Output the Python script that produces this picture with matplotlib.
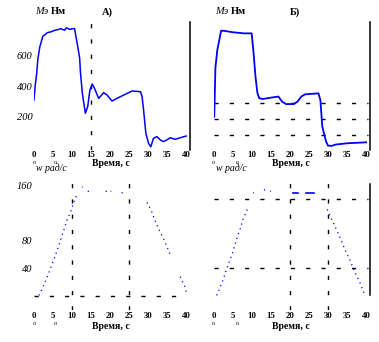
import numpy as np
import matplotlib
matplotlib.use("Agg")
import matplotlib.pyplot as plt

nan = np.nan

# torque, case A
t_m1 = [0, 0.3, 0.7, 1.0, 1.5, 2.3, 3.5, 4.5, 5.5, 6.5, 7.0, 8.0, 8.5, 9.5, 10.0, 10.65,
        11.35, 12.0, 12.2, 12.7, 13.5, 14.1, 14.7, 15.3, 15.9, 17.0, 18.3, 19.2, 20.5,
        21.8, 23.6, 25.8, 28.0, 28.4, 28.8, 29.4, 30.1, 30.7, 31.4, 32.3, 33.2, 34.0,
        34.9, 35.8, 37.1, 38.4, 40.0]
m1 = [310, 400, 480, 570, 650, 720, 744, 750, 760, 765, 770, 760, 775, 765, 770, 770,
      675, 580, 492, 353, 224, 266, 374, 413, 385, 320, 357, 342, 303,
      320, 342, 368, 363, 331, 245, 95, 30, 8, 63, 73, 52, 41,
      52, 66, 56, 66, 77]

# torque, case B
t_m2 = [0.2, 0.5, 1.0, 2.0, 3.0, 5.0, 8.0, 10.0, 10.5, 11.0, 11.5, 12.0, 13.0, 15.0,
        17.0, 18.0, 19.0, 21.0, 22.0, 23.0, 24.0, 27.5, 28.0, 28.5, 29.5, 30.0, 31.0,
        32.0, 35.0, 40.0]
m2 = [214, 520, 631, 752, 750, 742, 735, 735, 612, 464, 362, 329, 325, 333,
      340, 308, 293, 293, 308, 340, 354, 360, 318, 152, 58, 33, 32,
      40, 48, 54]

# speed, case A
t_w1 = [1.3, 2.2, 3.5, 5.2, 7.0, 8.7, 9.6, 10.5, 11.2, nan, 12.6, 12.8, nan, 14.1, 14.8,
        nan, 18.8, 20.3, nan, 23.0, 23.4, nan, 29.7, 31.0, 31.7, 33.0, 34.1, 35.2, 36.1,
        nan, 38.4, 39.7, 40.2]
w1 = [1, 11, 28, 52, 81, 110, 121, 136, 145, nan, 157, 157, nan, 151, 151,
      nan, 151, 151, nan, 149, 149, nan, 135, 121, 110, 94, 82, 68, 56,
      nan, 28, 13, 1]

# speed, case B
t_w2 = [0.85, 2.55, 3.8, 4.9, 5.5, 6.4, 7.0, 7.7, 8.9, nan, 10.4, 10.6, nan, 13.2, 13.6,
        nan, 14.8, 15.0, nan, 29.8, 31.0, 32.2, 33.0, 34.0, 34.5, 35.6, 36.6, 37.6, 38.1,
        39.3, 40.0]
w2 = [1, 24, 45, 61, 72, 88, 97, 110, 126, nan, 149, 149, nan, 153, 153,
      nan, 151, 151, nan, 125, 110, 96, 86, 73, 66, 54, 40, 28, 23,
      6, 1]
t_w2_flat = [20.9, 22.1, nan, 24.3, 26.2]
w2_flat = [149, 149, nan, 148, 148]

x_ticks = [0, 5, 10, 15, 20, 25, 30, 35, 40]
m_ticks = [200, 400, 600]
w_ticks = [40, 80, 160]
m2_levels = [100, 200, 300]
w2_levels = [40, 140]

W, H = 379, 342
fig = plt.figure(figsize=(W / 100, H / 100), dpi=100)
fig.patch.set_facecolor("white")
serif = "Liberation Serif"
blue = "#0000ff"
dash = (3, 8)
dots = (0, (1, 3))


def px_axes(l, r, t, b):
    return fig.add_axes([l / W, 1 - b / H, (r - l) / W, (b - t) / H])


def style(ax, ylim, yt=None, right=True, xpad=1.0):
    ax.set_xlim(0, 41)
    ax.set_ylim(*ylim)
    for s in ["top", "left", "bottom"]:
        ax.spines[s].set_visible(False)
    ax.spines["right"].set_visible(right)
    ax.spines["right"].set_linewidth(1.1)
    ax.set_xticks(x_ticks)
    ax.set_xticklabels([str(v) for v in x_ticks], fontfamily=serif,
                       fontweight="bold", fontsize=6.3)
    ax.tick_params(axis="x", length=0, pad=xpad)
    if yt:
        ax.set_yticks(yt)
        ax.set_yticklabels([str(v) for v in yt], fontfamily=serif,
                           fontstyle="italic", fontsize=7.5)
        ax.tick_params(axis="y", length=0, pad=1)
    else:
        ax.set_yticks([])
    ax.patch.set_alpha(0)


def ftext(x, y, s, **kw):
    fig.text(x / W, 1 - y / H, s, fontfamily=serif, va="center", **kw)


# top-left
ax1 = px_axes(34, 190, 22, 150)
style(ax1, (-13, 813), m_ticks, xpad=0.8)
ax1.axvline(15, color="black", lw=1, dashes=dash)
ax1.plot(t_m1, m1, color=blue, lw=1.1)

# top-right
ax2 = px_axes(213.5, 370, 22, 150)
style(ax2, (6, 806), xpad=0.8)
for v in m2_levels:
    ax2.plot([0, 40.5], [v, v], color="black", lw=1, dashes=dash)
ax2.plot(t_m2, m2, color=blue, lw=1.3)

# bottom-left
ax3 = px_axes(34, 190, 183, 310)
style(ax3, (-20, 163), w_ticks, right=False, xpad=1.5)
ax3.plot([0, 40], [0, 0], color="black", lw=1, dashes=dash)
for v in [10, 25]:
    ax3.axvline(v, color="black", lw=1, dashes=dash)
ax3.plot(t_w1, w1, color=blue, lw=0.9, linestyle=dots)

# bottom-right
ax4 = px_axes(213.5, 370, 183, 310)
style(ax4, (-20, 163), right=False, xpad=1.5)
ax4.plot([41, 41], [1, 161], color="black", lw=1.1, clip_on=False)
for v in w2_levels:
    ax4.plot([0, 40.5], [v, v], color="black", lw=1, dashes=dash)
for v in [20, 30]:
    ax4.axvline(v, color="black", lw=1, dashes=dash)
ax4.plot(t_w2, w2, color=blue, lw=0.9, linestyle=dots)
ax4.plot(t_w2_flat, w2_flat, color=blue, lw=1.2)

# labels
for x0 in [35, 215]:
    ftext(x0, 11.7, "Мэ", fontstyle="italic", fontsize=7.5)
    ftext(x0 + 16, 11.7, "Нм", fontweight="bold", fontsize=7.5)
    ftext(x0 + 1, 168.5, "w рад/с", fontstyle="italic", fontsize=7)
ftext(102, 11.7, "А)", fontweight="bold", fontsize=7.5)
ftext(290, 11.7, "Б)", fontweight="bold", fontsize=7.5)
for x0 in [92, 272]:
    ftext(x0, 164, "Время, с", fontweight="bold", fontsize=7)
    ftext(x0, 326.5, "Время, с", fontweight="bold", fontsize=7)
for x0 in [34, 55, 213.5, 237]:
    ftext(x0, 162.5, "o", fontsize=4.5, ha="center")
    ftext(x0, 323.5, "o", fontsize=4.5, ha="center")

fig.savefig("out.png", dpi=100)
